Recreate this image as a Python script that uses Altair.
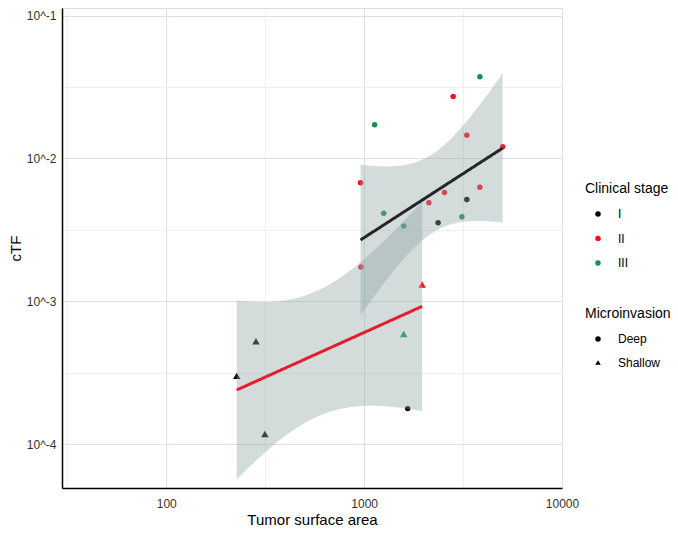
import altair as alt
import numpy as np
import pandas as pd

# ---- data ----
area = [3846, 2818, 1130, 3304, 5012, 959, 3846, 2547, 3304, 2124, 1256, 3119, 2365, 1585, 964, 1660,
        1964, 1585, 284, 227, 315]
ctf = [0.0374, 0.0272, 0.0172, 0.01456, 0.01208, 0.00676, 0.00629, 0.00578, 0.00516, 0.00490,
       0.00414, 0.00391, 0.00355, 0.00336, 0.00174, 0.000177,
       0.00131, 0.00059, 0.000525, 0.000300, 0.0001175]
stage = ['III', 'II', 'III', 'II', 'II', 'II', 'II', 'II', 'I', 'II', 'III', 'III', 'I', 'III', 'II', 'I',
         'II', 'III', 'I', 'I', 'I']
micro = ['Deep'] * 16 + ['Shallow'] * 5

stage_levels = ['I', 'II', 'III']
stage_colors = ['#000000', '#FF0A1E', '#178F4C']
micro_levels = ['Deep', 'Shallow']
micro_shapes = ['circle', 'triangle-up']
line_colors = ['#262626', '#E41E2C']
# Student t 97.5% quantiles for the 95% confidence band (df = n - 2)
T_QUANTILE = {'Deep': 2.1448, 'Shallow': 3.1824}

x_ticks = [10 ** 1.5, 100, 10 ** 2.5, 1000, 10 ** 3.5, 10000]
y_ticks = [1e-4, 10 ** -3.5, 1e-3, 10 ** -2.5, 1e-2, 10 ** -1.5, 1e-1]

df = pd.DataFrame({'area': area, 'ctf': ctf, 'stage': stage, 'micro': micro})
df['size'] = np.where(df.micro == 'Deep', 30, 55)

# ---- linear fit in log-log space with 95% CI (like geom_smooth(method='lm')) ----
rows = []
for g in micro_levels:
    sub = df[df.micro == g]
    lx = np.log10(sub.area.values)
    ly = np.log10(sub.ctf.values)
    n = len(lx)
    b, a = np.polyfit(lx, ly, 1)
    res = ly - (a + b * lx)
    s = np.sqrt(np.sum(res ** 2) / (n - 2))
    mx = lx.mean()
    sxx = np.sum((lx - mx) ** 2)
    grid = np.linspace(lx.min(), lx.max(), 100)
    fitv = a + b * grid
    se = s * np.sqrt(1.0 / n + (grid - mx) ** 2 / sxx)
    t = T_QUANTILE[g]
    for gx, fy, e in zip(grid, fitv, se):
        rows.append({'micro': g, 'x': 10 ** gx, 'fit': 10 ** fy,
                     'lo': 10 ** (fy - t * e), 'hi': 10 ** (fy + t * e)})
fitdf = pd.DataFrame(rows)

FONT = 'Liberation Sans'

xscale = alt.Scale(type='log', domain=[10 ** 1.473, 10000], nice=False, zero=False)
yscale = alt.Scale(type='log', domain=[10 ** -4.308, 10 ** -0.946], nice=False, zero=False)

major_test = "abs(log(datum.value)/LN10 - round(log(datum.value)/LN10)) < 0.01"
grid_color = {'condition': {'test': major_test, 'value': '#DCE2E2'}, 'value': '#ECF0F0'}

xaxis = alt.Axis(values=x_ticks, title='Tumor surface area', grid=True, gridColor=grid_color,
                 labelExpr=f"{major_test} ? format(datum.value, 'd') : ''",
                 ticks=False, tickSize=0, labelPadding=10, titlePadding=3,
                 domainColor='black', domainWidth=1.5, labelColor='#333333', labelFontSize=12,
                 titleFontSize=15, titleFontWeight='normal', titleColor='black',
                 labelFont=FONT, titleFont=FONT, labelFlush=False, labelOverlap=False)
yaxis = alt.Axis(values=y_ticks, title='cTF', grid=True, gridColor=grid_color,
                 labelExpr=f"{major_test} ? '10^' + round(log(datum.value)/LN10) : ''",
                 ticks=False, tickSize=0, labelPadding=6, titlePadding=3,
                 domainColor='black', domainWidth=1.5, labelColor='#333333', labelFontSize=12,
                 titleFontSize=15, titleFontWeight='normal', titleColor='black',
                 labelFont=FONT, titleFont=FONT, labelFlush=False, labelOverlap=False)

color_enc = alt.Color('stage:N', scale=alt.Scale(domain=stage_levels, range=stage_colors),
                      legend=alt.Legend(title='Clinical stage', orient='none', legendX=523, legendY=174,
                                        padding=0, titleFontSize=14, titleFontWeight='normal',
                                        titleFont=FONT, labelFont=FONT, labelFontSize=12,
                                        labelColor='black', titleColor='black',
                                        symbolType='circle', symbolSize=30, symbolStrokeWidth=0,
                                        symbolOffset=7, labelOffset=14, rowPadding=12.5,
                                        titlePadding=12))
shape_enc = alt.Shape('micro:N', scale=alt.Scale(domain=micro_levels, range=micro_shapes),
                      legend=alt.Legend(title='Microinvasion', orient='none', legendX=523, legendY=299,
                                        padding=0, titleFontSize=14, titleFontWeight='normal',
                                        titleFont=FONT, labelFont=FONT, labelFontSize=12,
                                        labelColor='black', titleColor='black',
                                        symbolFillColor='black', symbolStrokeColor='black',
                                        symbolStrokeWidth=0, symbolSize=30,
                                        symbolOffset=7, labelOffset=14, rowPadding=11.5,
                                        titlePadding=12))

pts = alt.Chart(df).mark_point(filled=True, opacity=1, strokeWidth=0).encode(
    x=alt.X('area:Q', scale=xscale, axis=xaxis),
    y=alt.Y('ctf:Q', scale=yscale, axis=yaxis),
    color=color_enc, shape=shape_enc,
    size=alt.Size('size:Q', scale=None, legend=None))

fb = alt.Chart(fitdf)
ribbon = fb.mark_area(color='#91A5A5', opacity=0.4, clip=True).encode(
    x=alt.X('x:Q', scale=xscale),
    y=alt.Y('lo:Q', scale=yscale),
    y2='hi:Q',
    detail='micro:N')
lines = fb.mark_line(strokeWidth=3, clip=True).encode(
    x=alt.X('x:Q', scale=xscale),
    y=alt.Y('fit:Q', scale=yscale),
    stroke=alt.Stroke('micro:N', scale=alt.Scale(domain=micro_levels, range=line_colors), legend=None))

chart = alt.layer(pts, ribbon, lines).properties(
    width=500, height=480,
    autosize=alt.AutoSizeParams(type='none'),
    padding={'left': 54, 'top': 0, 'right': 108, 'bottom': 40},
    background='white'
).configure_view(stroke=None).configure_legend(
    titleFontWeight='normal'
).configure(font=FONT)

chart.save('out.html', embed_options={'renderer': 'svg', 'actions': False})
